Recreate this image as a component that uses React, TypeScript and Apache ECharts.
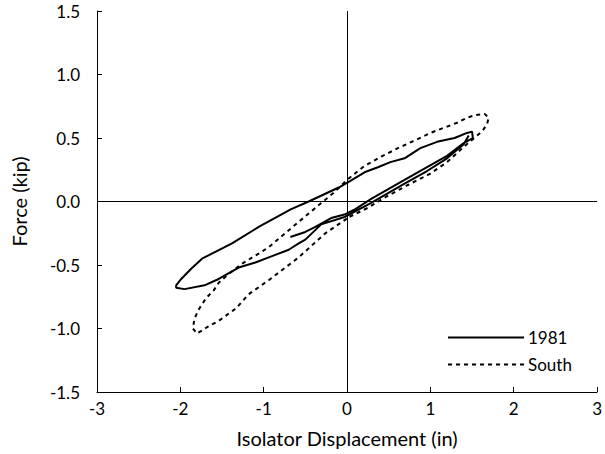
import React, { useEffect, useRef } from "react";
import * as echarts from "echarts";

// 1981 record: displacement (in) and force (kip)
const s1981X = [
  -0.68, -0.5, -0.38, -0.19, -0.02, 0.1, 0.29, 0.5, 0.69, 0.96, 1.2, 1.4, 1.51, 1.5, 1.44,
  1.29, 1.08, 0.88, 0.69, 0.52, 0.37, 0.21, 0.01, -0.1, -0.46, -0.67, -1.06, -1.38, -1.74,
  -1.87, -1.99, -2.05, -2.05, -1.95, -1.71, -1.54, -1.3, -1.1, -0.9, -0.7, -0.58, -0.5,
  -0.31, -0.02, 0.29, 0.69, 0.96, 1.2, 1.4, 1.46,
];
const s1981Y = [
  -0.28, -0.24, -0.2, -0.13, -0.1, -0.06, 0.02, 0.1, 0.17, 0.27, 0.36, 0.46, 0.5, 0.55, 0.54,
  0.5, 0.47, 0.42, 0.34, 0.31, 0.27, 0.23, 0.15, 0.11, 0.0, -0.06, -0.2, -0.33, -0.45,
  -0.53, -0.61, -0.66, -0.68, -0.69, -0.66, -0.61, -0.52, -0.48, -0.43, -0.38, -0.33, -0.3,
  -0.18, -0.12, -0.01, 0.14, 0.24, 0.34, 0.45, 0.52,
];

// South record
const southX = [
  0.03, 0.25, 0.45, 0.73, 1.0, 1.2, 1.4, 1.58, 1.64, 1.68, 1.7, 1.65, 1.54, 1.44, 1.32, 1.2,
  1.0, 0.81, 0.61, 0.4, 0.21, 0.0, -0.14, -0.58, -0.94, -1.06, -1.26, -1.42, -1.54, -1.6,
  -1.69, -1.77, -1.83, -1.85, -1.8, -1.68, -1.54, -1.33, -1.18, -0.94, -0.58, -0.26, 0.03,
];
const southY = [
  -0.12, -0.05, 0.03, 0.13, 0.22, 0.31, 0.43, 0.53, 0.57, 0.61, 0.66, 0.69, 0.68, 0.66, 0.62, 0.59,
  0.54, 0.48, 0.42, 0.35, 0.28, 0.17, 0.08, -0.16, -0.36, -0.41, -0.49, -0.57, -0.64, -0.7,
  -0.76, -0.84, -0.92, -1.0, -1.04, -0.99, -0.94, -0.84, -0.73, -0.62, -0.44, -0.25, -0.12,
];

const seriesNames = ["1981", "South"];
const xTicks = { min: -3, max: 3, interval: 1 };
const yTicks = { min: -1.5, max: 1.5, interval: 0.5 };

const FONT = "Lato, 'Open Sans', sans-serif";

export default function App() {
  const ref = useRef<HTMLDivElement>(null);
  useEffect(() => {
    if (!ref.current) return;
    const chart = echarts.init(ref.current, undefined, { renderer: "svg" });
    const pairs = (xs: number[], ys: number[]) => xs.map((x, i) => [x, ys[i]]);
    chart.setOption({
      animation: false,
      textStyle: { fontFamily: FONT },
      grid: { left: 97, right: 2, top: 11, bottom: 62, containLabel: false },
      legend: {
        orient: "vertical",
        left: 442,
        top: 322,
        itemWidth: 76,
        itemHeight: 14,
        itemGap: 6,
        itemStyle: { opacity: 0 },
        textStyle: { fontFamily: FONT, fontSize: 17, color: "#000", lineHeight: 21, padding: [0, 0, 0, -1] },
        data: seriesNames,
      },
      xAxis: {
        type: "value",
        min: xTicks.min,
        max: xTicks.max,
        interval: xTicks.interval,
        name: "Isolator Displacement (in)",
        nameLocation: "middle",
        nameGap: 36,
        nameTextStyle: { fontFamily: FONT, fontSize: 20, color: "#000" },
        axisLine: { onZero: false, lineStyle: { color: "#000", width: 1 } },
        axisTick: { inside: true, length: 5, lineStyle: { color: "#000" } },
        axisLabel: { fontFamily: FONT, fontSize: 17, color: "#000", margin: 8 },
        splitLine: { show: false },
      },
      yAxis: {
        type: "value",
        min: yTicks.min,
        max: yTicks.max,
        interval: yTicks.interval,
        name: "Force (kip)",
        nameLocation: "middle",
        nameRotate: 90,
        nameGap: 68,
        nameTextStyle: { fontFamily: FONT, fontSize: 20, color: "#000" },
        axisLine: { onZero: false, lineStyle: { color: "#000", width: 1 } },
        axisTick: { inside: true, length: 5, lineStyle: { color: "#000" } },
        axisLabel: {
          fontFamily: FONT,
          fontSize: 17,
          color: "#000",
          margin: 17,
          formatter: (v: number) => v.toFixed(1),
        },
        splitLine: { show: false },
      },
      series: [
        {
          name: seriesNames[0],
          type: "line",
          data: pairs(s1981X, s1981Y),
          symbol: "none",
          smooth: false,
          lineStyle: { color: "#000", width: 2, type: "solid" },
          itemStyle: { color: "#000" },
          z: 3,
          markLine: {
            silent: true,
            symbol: ["none", "none"],
            label: { show: false },
            lineStyle: { color: "#000", width: 1, type: "solid" },
            data: [{ xAxis: 0 }, { yAxis: 0 }],
          },
        },
        {
          name: seriesNames[1],
          type: "line",
          data: pairs(southX, southY),
          symbol: "none",
          smooth: false,
          lineStyle: { color: "#000", width: 2, type: [4, 4] },
          itemStyle: { color: "#000" },
          z: 2,
        },
      ],
    });
    return () => chart.dispose();
  }, []);
  return (
    <div
      ref={ref}
      style={{ position: "absolute", left: 0, top: 0, width: 605, height: 454, background: "#fff" }}
    />
  );
}
